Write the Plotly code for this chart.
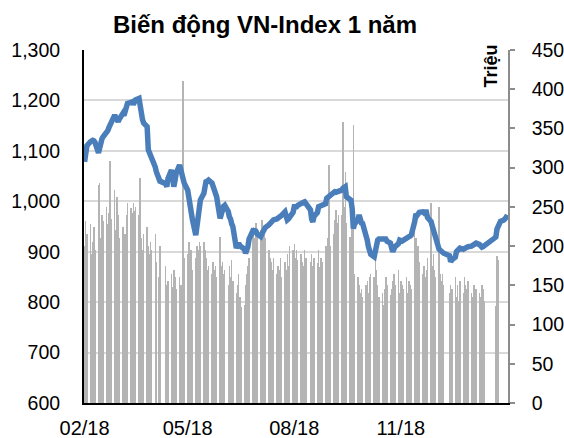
import pandas as pd
import plotly.graph_objects as go

# ---- Data -------------------------------------------------------------
title_text = "Biến động VN-Index 1 năm"
right_axis_title = "Triệu"

start_date = "2018-02-21"
end_date = "2019-02-21"
holidays = ["2018-04-25", "2018-04-30", "2018-05-01", "2018-09-03",
            "2018-12-31", "2019-01-01", "2019-02-04", "2019-02-05",
            "2019-02-06", "2019-02-07", "2019-02-08"]

tick_dates = ["2018-02-21", "2018-05-21", "2018-08-21", "2018-11-21"]
tick_labels = ["02/18", "05/18", "08/18", "11/18"]

# VN-Index close (points), month by month
vni_feb18 = [1078, 1102, 1110, 1118, 1122, 1121]
vni_mar18 = [1120, 1117, 1096, 1110, 1121, 1124, 1128, 1135, 1140, 1146, 1151,
             1158, 1171, 1166, 1160, 1158, 1163, 1174, 1170, 1178, 1183, 1194]
vni_apr18 = [1196, 1197, 1192, 1200, 1201, 1204, 1185, 1168, 1162, 1155, 1148,
             1102, 1096, 1092, 1090, 1068, 1058, 1049, 1040]
vni_may18 = [1035, 1029, 1045, 1062, 1048, 1029, 1040, 1055, 1072, 1060, 1049,
             1045, 1036, 1022, 1003, 985, 980, 965, 933, 950, 970, 989]
vni_jun18 = [1003, 1016, 1030, 1042, 1040, 1042, 1036, 1029, 1030, 1020, 1009,
             966, 975, 989, 990, 992, 980, 969, 965, 955, 950]
vni_jul18 = [907, 912, 917, 912, 910, 905, 897, 903, 910, 925, 943,
             945, 940, 940, 935, 930, 935, 940, 943, 948, 953, 956]
vni_aug18 = [958, 960, 963, 965, 966, 968, 969, 972, 979, 970, 963, 965,
             969, 978, 989, 988, 989, 992, 994, 996, 998, 999, 996]
vni_sep18 = [983, 965, 959, 970, 978, 989, 990, 991, 992, 995, 1006, 1008,
             1010, 1012, 1016, 1019, 1018, 1019, 1020]
vni_oct18 = [1022, 1026, 1027, 1029, 1009, 1005, 1002, 985, 946, 955, 963, 973,
             959, 957, 956, 935, 923, 910, 897, 895, 890, 905, 914]
vni_nov18 = [923, 925, 926, 924, 926, 925, 921, 917, 908, 900, 905, 910,
             916, 923, 922, 921, 923, 926, 928, 930, 931, 933]
vni_dec18 = [960, 975, 972, 976, 978, 979, 977, 979, 979, 968, 960, 952,
             943, 932, 923, 905, 903, 900, 898, 897]
vni_jan19 = [892, 880, 884, 889, 900, 903, 905, 907, 905, 907, 906, 908,
             910, 911, 913, 912, 915, 917, 914, 910, 909, 910]
vni_feb19 = [912, 929, 945, 950, 955, 960, 963, 965, 968, 973]

# Trading volume (million shares), month by month
vol_feb18 = [200, 232, 215, 228, 190, 205]
vol_mar18 = [225, 195, 278, 280, 210, 240, 232, 250, 228, 242, 308,
             235, 272, 220, 262, 240, 210, 225, 205, 215, 240, 255]
vol_apr18 = [248, 242, 255, 245, 250, 240, 287, 210, 195, 215, 225,
             200, 190, 205, 195, 215, 180, 160, 200]
vol_may18 = [175, 150, 155, 165, 148, 170, 160, 145, 160, 150, 150,
             410, 185, 190, 205, 180, 195, 170, 185, 200, 195, 205]
vol_jun18 = [200, 205, 195, 185, 170, 175, 165, 180, 170, 175, 160,
             211, 175, 180, 165, 170, 150, 175, 160, 182, 155]
vol_jul18 = [140, 150, 165, 135, 122, 125, 150, 165, 175, 185, 215,
             225, 210, 230, 215, 220, 233, 205, 225, 210, 195, 185]
vol_aug18 = [180, 170, 185, 165, 175, 170, 185, 160, 180, 170, 190, 175,
             200, 195, 203, 185, 195, 182, 190, 180, 175, 195, 185]
vol_sep18 = [180, 190, 175, 185, 178, 195, 173, 185, 180, 200, 200, 210,
             303, 200, 215, 233, 246, 230, 240]
vol_oct18 = [240, 358, 250, 295, 230, 211, 190, 230, 354, 165, 160, 150,
             140, 145, 135, 150, 155, 140, 160, 165, 160, 194, 170]
vol_nov18 = [150, 135, 140, 125, 145, 160, 150, 138, 145, 155, 165,
             150, 169, 140, 155, 150, 145, 160, 140, 155, 150, 145]
vol_dec18 = [224, 210, 190, 200, 180, 165, 175, 160, 170, 185, 255,
             175, 190, 170, 160, 250, 165, 155, 165, 150]
vol_jan19 = [140, 150, 145, 160, 135, 150, 130, 155, 140, 160, 150,
             145, 155, 140, 135, 150, 130, 145, 140, 135, 150, 145]
vol_feb19 = [130, 124, 188, 182, None, None, None, None, None, None]

vni = (vni_feb18 + vni_mar18 + vni_apr18 + vni_may18 + vni_jun18 + vni_jul18 +
       vni_aug18 + vni_sep18 + vni_oct18 + vni_nov18 + vni_dec18 + vni_jan19 + vni_feb19)
vol = (vol_feb18 + vol_mar18 + vol_apr18 + vol_may18 + vol_jun18 + vol_jul18 +
       vol_aug18 + vol_sep18 + vol_oct18 + vol_nov18 + vol_dec18 + vol_jan19 + vol_feb19)

dates = [d for d in pd.bdate_range(start_date, end_date)
         if d.strftime("%Y-%m-%d") not in holidays]
assert len(dates) == len(vni) == len(vol), (len(dates), len(vni), len(vol))

# ---- Figure -----------------------------------------------------------
FONT = "Liberation Sans, Arial, sans-serif"
DAY_MS = 86400000

fig = go.Figure()
fig.add_trace(go.Bar(
    x=dates, y=vol, yaxis="y", width=0.4 * DAY_MS,
    marker=dict(color="#b4b4b4", line=dict(width=0)),
    name="Khối lượng", hoverinfo="x+y"))
fig.add_trace(go.Scatter(
    x=dates, y=vni, yaxis="y2", mode="lines",
    line=dict(color="#4a7ebb", width=5.5),
    name="VN-Index"))

fig.update_layout(
    width=564, height=438,
    margin=dict(l=84, r=56, t=50, b=35, autoexpand=False),
    paper_bgcolor="white", plot_bgcolor="white",
    showlegend=False, bargap=0,
    font=dict(family=FONT, size=20, color="#000000"),
    title=dict(text="<b>" + title_text + "</b>", x=265 / 564, xanchor="center",
               xref="container",
               y=1 - 25 / 438, yanchor="middle", font=dict(family=FONT, size=24)),
    xaxis=dict(type="date", automargin=False,
               range=["2018-02-20 12:00", "2019-02-21 12:00"],
               tickvals=tick_dates, ticktext=tick_labels,
               showgrid=False, showline=True, linecolor="#000000", linewidth=2,
               ticks="", tickfont=dict(size=20), ticklabelstandoff=6,
               zeroline=False),
    yaxis=dict(side="right", range=[0, 450], tickvals=list(range(0, 451, 50)),
               automargin=False,
               showgrid=False, showline=True, linecolor="#8c8c8c", linewidth=1.5,
               ticks="outside", ticklen=5, tickcolor="#8c8c8c", tickwidth=1.5,
               tickfont=dict(size=19.5), ticklabelstandoff=13, zeroline=False),
    yaxis2=dict(side="left", overlaying="y", range=[600, 1300], automargin=False,
                tickvals=list(range(600, 1301, 100)), tickformat=",",
                showgrid=True, gridcolor="#d9d9d9", gridwidth=1.5,
                showline=True, linecolor="#000000", linewidth=2,
                ticks="", tickfont=dict(size=19.5), ticklabelstandoff=18,
                zeroline=False),
    annotations=[dict(text="<b>" + right_axis_title + "</b>", textangle=-90,
                      xref="paper", yref="paper", x=(491 - 84) / 424, y=1.02,
                      xanchor="center", yanchor="top", showarrow=False,
                      font=dict(family=FONT, size=18, color="#000000"))],
)

fig.write_html("out.html",
               config={"displayModeBar": False},
               post_script="document.body.style.margin='0px';"
                           "document.body.style.overflow='hidden';")
